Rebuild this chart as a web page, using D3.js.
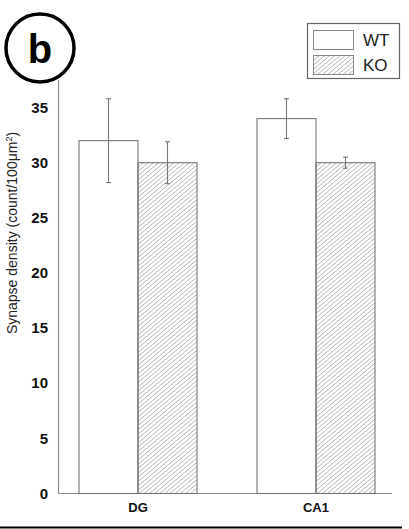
<!DOCTYPE html>
<html lang="en">
<head>
    <meta charset="UTF-8">
    <script src="https://d3js.org/d3.v7.min.js"></script>
    <style>
        body { margin: 0; padding: 0; background: #fff; }
        svg { display: block; font-family: 'Liberation Sans', Arial, sans-serif; }
    </style>
</head>
<body>
    <div id="chart"></div>
    <script>
        // Data
        const regions = ["DG", "CA1"];
        const groups = ["WT", "KO"];
        const wtMean = [32, 34];
        const wtErr = [3.8, 1.8];
        const koMean = [30, 30];
        const koErr = [1.9, 0.5];
        const yTicks = [0, 5, 10, 15, 20, 25, 30, 35];

        const width = 409, height = 529;
        const svg = d3.select("#chart").append("svg")
            .attr("width", width)
            .attr("height", height);

        // hatch pattern for KO
        const defs = svg.append("defs");
        defs.append("pattern")
            .attr("id", "hatch")
            .attr("patternUnits", "userSpaceOnUse")
            .attr("width", 3.3)
            .attr("height", 3.3)
            .attr("patternTransform", "rotate(50)")
            .append("line")
            .attr("x1", 0).attr("y1", 0)
            .attr("x2", 0).attr("y2", 3.3)
            .attr("stroke", "#8a8a8a")
            .attr("stroke-width", 1);

        const axisLeft = 58.5, axisRight = 392, baseline = 493.5, axisTop = 80;

        const y = d3.scaleLinear()
            .domain([0, 37.5])
            .range([baseline, axisTop]);

        const x0 = d3.scaleBand()
            .domain(regions)
            .range([49, 405]);

        const barW = 59;
        const x1 = d3.scaleBand()
            .domain(groups)
            .range([x0.bandwidth() / 2 - barW, x0.bandwidth() / 2 + barW]);

        const rows = regions.map((r, i) => ({
            region: r,
            values: [
                {group: "WT", mean: wtMean[i], err: wtErr[i]},
                {group: "KO", mean: koMean[i], err: koErr[i]}
            ]
        }));

        // axes lines (no ticks)
        svg.append("line")
            .attr("x1", axisLeft).attr("x2", axisLeft)
            .attr("y1", axisTop).attr("y2", baseline)
            .attr("stroke", "#888").attr("stroke-width", 1.2);
        svg.append("line")
            .attr("x1", axisLeft).attr("x2", axisRight)
            .attr("y1", baseline).attr("y2", baseline)
            .attr("stroke", "#888").attr("stroke-width", 1.2);

        // y tick labels
        svg.append("g").selectAll("text")
            .data(yTicks)
            .enter().append("text")
            .attr("x", 48)
            .attr("y", d => y(d))
            .attr("dy", "0.35em")
            .attr("text-anchor", "end")
            .attr("font-size", 15)
            .attr("font-weight", "bold")
            .attr("fill", "#111")
            .text(d => d);

        // y label
        svg.append("text")
            .attr("transform", `translate(17,${233}) rotate(-90)`)
            .attr("text-anchor", "middle")
            .attr("font-size", 14)
            .attr("fill", "#222")
            .html("Synapse density (count/100μm<tspan dy='-5' font-size='9'>2</tspan><tspan dy='5'>)</tspan>");

        // bars
        const gRegion = svg.append("g").selectAll("g")
            .data(rows)
            .enter().append("g")
            .attr("transform", d => `translate(${x0(d.region)},0)`);

        gRegion.selectAll("rect")
            .data(d => d.values)
            .enter().append("rect")
            .attr("x", d => x1(d.group))
            .attr("y", d => y(d.mean))
            .attr("width", x1.bandwidth())
            .attr("height", d => baseline - y(d.mean))
            .attr("fill", d => d.group === "KO" ? "url(#hatch)" : "#fff")
            .attr("stroke", "#777")
            .attr("stroke-width", 1.1);

        // error bars
        const eb = gRegion.selectAll("g.err")
            .data(d => d.values)
            .enter().append("g")
            .attr("class", "err")
            .attr("stroke", "#777")
            .attr("stroke-width", 1.1);
        eb.append("line")
            .attr("x1", d => x1(d.group) + x1.bandwidth() / 2)
            .attr("x2", d => x1(d.group) + x1.bandwidth() / 2)
            .attr("y1", d => y(d.mean + d.err))
            .attr("y2", d => y(d.mean - d.err));
        eb.append("line")
            .attr("x1", d => x1(d.group) + x1.bandwidth() / 2 - 2.5)
            .attr("x2", d => x1(d.group) + x1.bandwidth() / 2 + 2.5)
            .attr("y1", d => y(d.mean + d.err))
            .attr("y2", d => y(d.mean + d.err));
        eb.append("line")
            .attr("x1", d => x1(d.group) + x1.bandwidth() / 2 - 2.5)
            .attr("x2", d => x1(d.group) + x1.bandwidth() / 2 + 2.5)
            .attr("y1", d => y(d.mean - d.err))
            .attr("y2", d => y(d.mean - d.err));

        // x labels
        svg.append("g").selectAll("text")
            .data(regions)
            .enter().append("text")
            .attr("x", d => x0(d) + x0.bandwidth() / 2)
            .attr("y", 512)
            .attr("text-anchor", "middle")
            .attr("font-size", 13)
            .attr("font-weight", "bold")
            .attr("fill", "#111")
            .text(d => d);

        // legend
        const legend = svg.append("g");
        legend.append("rect")
            .attr("x", 307.5).attr("y", 23.5)
            .attr("width", 92).attr("height", 55)
            .attr("fill", "#fff")
            .attr("stroke", "#666").attr("stroke-width", 1.2);
        groups.forEach((g, i) => {
            legend.append("rect")
                .attr("x", 313.5).attr("y", 30.5 + i * 25)
                .attr("width", 40).attr("height", 19)
                .attr("fill", g === "KO" ? "url(#hatch)" : "#fff")
                .attr("stroke", "#888").attr("stroke-width", 1);
            legend.append("text")
                .attr("x", 363).attr("y", 40 + i * 25)
                .attr("dy", "0.35em")
                .attr("font-size", 17)
                .attr("fill", "#222")
                .text(g);
        });

        // panel letter
        svg.append("circle")
            .attr("cx", 40).attr("cy", 48).attr("r", 34)
            .attr("fill", "#fff")
            .attr("stroke", "#000").attr("stroke-width", 3.5);
        svg.append("text")
            .attr("x", 40).attr("y", 49)
            .attr("dy", "0.35em")
            .attr("text-anchor", "middle")
            .attr("font-size", 40)
            .attr("font-weight", "bold")
            .attr("fill", "#000")
            .text("b");

        // bottom rule
        svg.append("line")
            .attr("x1", 0).attr("x2", 402)
            .attr("y1", 527.5).attr("y2", 527.5)
            .attr("stroke", "#000").attr("stroke-width", 2);
    </script>
</body>
</html>
